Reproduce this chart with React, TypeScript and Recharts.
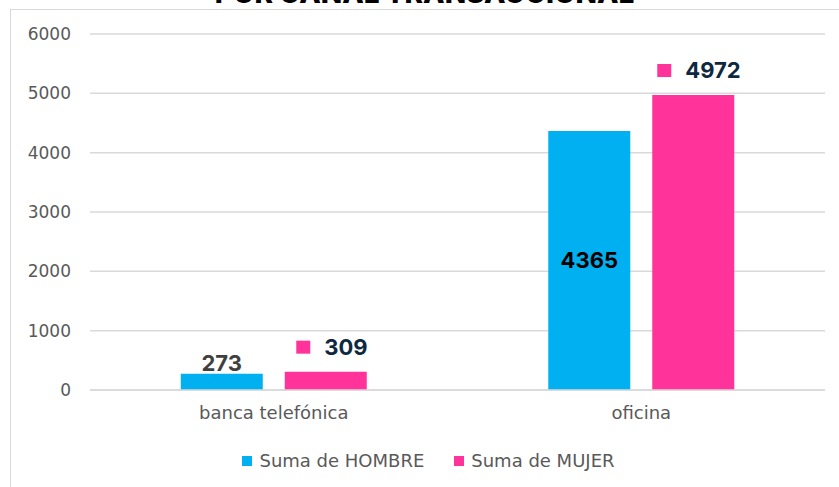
import { BarChart, Bar, XAxis, YAxis, CartesianGrid, Legend, LabelList } from "recharts";

const categories = ["banca telefónica", "oficina"];
const hombre = [273, 4365];
const mujer = [309, 4972];
const yTicks = [0, 1000, 2000, 3000, 4000, 5000, 6000];

const data = categories.map((c, i) => ({ canal: c, hombre: hombre[i], mujer: mujer[i] }));

const FONT = "Inter, 'Open Sans', sans-serif";
const AXIS_FONT = "'DejaVu Sans', sans-serif";
const BLUE = "#00B0F0";
const PINK = "#FF3399";

// hombre: first label sits on top of the bar, second one in the middle
const HombreLabel = (props: any) => {
  const { x, y, width, height, value, index } = props;
  const cx = x + width / 2;
  if (index === 0) {
    return (
      <text x={cx} y={y - 3} textAnchor="middle" fill="#404040" fontSize={22} fontWeight={700} fontFamily={FONT}>
        {value}
      </text>
    );
  }
  return (
    <text x={cx} y={y + height / 2} dy="0.35em" textAnchor="middle" fill="#000" fontSize={22} fontWeight={700} fontFamily={FONT}>
      {value}
    </text>
  );
};

// mujer: legend key square + value above the bar
const MujerLabel = (props: any) => {
  const { x, y, width, value } = props;
  const textW = String(value).length * 13;
  const total = 14 + 14 + textW;
  const left = x + width / 2 + 4 - total / 2;
  return (
    <g>
      <rect x={left} y={y - 31} width={14} height={13} fill={PINK} />
      <text x={left + 28} y={y - 17} fill="#0E2841" fontSize={22} fontWeight={700} fontFamily={FONT}>
        {value}
      </text>
    </g>
  );
};

const LegendContent = (props: any) => {
  const items = props.payload || [];
  return (
    <div
      style={{
        display: "flex",
        justifyContent: "center",
        gap: 30,
        paddingLeft: 32,
        fontFamily: AXIS_FONT,
        fontSize: 18,
        color: "#595959",
        height: 20,
        lineHeight: "20px",
      }}
    >
      {items.map((it: any) => (
        <div key={it.value} style={{ display: "flex", alignItems: "center", gap: 7 }}>
          <span style={{ width: 10, height: 10, background: it.color, display: "inline-block" }} />
          <span>{it.value}</span>
        </div>
      ))}
    </div>
  );
};

export default function App() {
  return (
    <div style={{ position: "absolute", left: 0, top: 0, width: 839, height: 487, background: "#fff", overflow: "hidden" }}>
      <div
        style={{
          position: "absolute",
          left: 10,
          top: 9,
          width: 860,
          height: 500,
          border: "1.5px solid #D9D9D9",
        }}
      />
      <div
        style={{
          position: "absolute",
          left: 0,
          width: 849,
          top: -24,
          textAlign: "center",
          fontFamily: FONT,
          fontWeight: 800,
          fontSize: 28,
          color: "#000",
        }}
      >
        POR CANAL TRANSACCIONAL
      </div>
      <div style={{ position: "absolute", left: 0, top: 0 }}>
        <BarChart
          width={839}
          height={487}
          data={data}
          margin={{ top: 34, right: 14, left: 0, bottom: 0 }}
          barCategoryGap="24.7%"
          barGap={22}
        >
          <CartesianGrid vertical={false} stroke="#D9D9D9" strokeWidth={1.5} />
          <XAxis
            dataKey="canal"
            axisLine={{ stroke: "#D9D9D9", strokeWidth: 1.5 }}
            tickLine={false}
            tickSize={0}
            tickMargin={16}
            height={77}
            tick={{ fill: "#595959", fontSize: 18, fontFamily: AXIS_FONT }}
          />
          <YAxis
            domain={[0, 6000]}
            ticks={yTicks}
            axisLine={false}
            tickLine={false}
            tickSize={0}
            tickMargin={19}
            width={90}
            tick={{ fill: "#595959", fontSize: 17, fontFamily: AXIS_FONT }}
          />
          <Legend verticalAlign="bottom" wrapperStyle={{ bottom: 16 }} content={<LegendContent />} />
          <Bar dataKey="hombre" name="Suma de HOMBRE" fill={BLUE} isAnimationActive={false}>
            <LabelList dataKey="hombre" content={<HombreLabel />} />
          </Bar>
          <Bar dataKey="mujer" name="Suma de MUJER" fill={PINK} isAnimationActive={false}>
            <LabelList dataKey="mujer" content={<MujerLabel />} />
          </Bar>
        </BarChart>
      </div>
    </div>
  );
}
